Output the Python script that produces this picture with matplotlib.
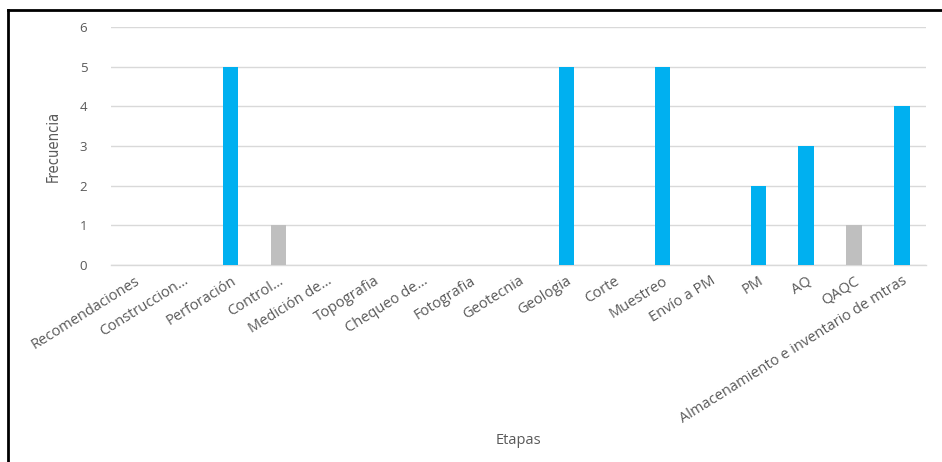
import matplotlib
matplotlib.use("Agg")
import matplotlib.pyplot as plt
from matplotlib.lines import Line2D

categories = ["Recomendaciones", "Construccion…", "Perforación", "Control…", "Medición de…",
              "Topografia", "Chequeo de…", "Fotografia", "Geotecnia", "Geologia", "Corte",
              "Muestreo", "Envío a PM", "PM", "AQ", "QAQC",
              "Almacenamiento e inventario de mtras"]
values = [0, 0, 5, 1, 0, 0, 0, 0, 0, 5, 0, 5, 0, 2, 3, 1, 4]
gray_cats = ["Control…", "QAQC"]
yticks = [0, 1, 2, 3, 4, 5, 6]

BLUE = "#00B0F0"
GRAY = "#BFBFBF"
TXT = "#595959"

plt.rcParams['font.family'] = ['Open Sans', 'DejaVu Sans']

fig = plt.figure(figsize=(9.42, 4.62), dpi=100)
ax = fig.add_axes([0.1178, 0.4264, 0.8652, 0.5152])

x = list(range(len(categories)))
colors = [GRAY if c in gray_cats else BLUE for c in categories]
ax.bar(x, values, width=0.32, color=colors, zorder=3)

ax.set_xlim(-0.5, len(categories) - 0.5)
ax.set_ylim(0, 6)
ax.set_yticks(yticks)
ax.yaxis.grid(True, color="#D9D9D9", linewidth=1, zorder=0)
for s in ["top", "right", "left"]:
    ax.spines[s].set_visible(False)
ax.spines["bottom"].set_color("#D9D9D9")
ax.spines["bottom"].set_linewidth(1)
ax.tick_params(axis="both", length=0, colors=TXT, labelsize=9.5)
ax.tick_params(axis="y", pad=17)
ax.tick_params(axis="x", pad=6)
ax.set_xticks(x)
ax.set_xticklabels(categories, rotation=32, ha="right", rotation_mode="anchor", color=TXT, fontsize=10.5)

ax.set_xlabel("Etapas", color=TXT, fontsize=10.5, labelpad=0)
ax.xaxis.set_label_coords(0.5, -0.705)
ax.set_ylabel("Frecuencia", color=TXT, fontsize=10.5,
              family=['DejaVu Sans'], fontstretch='condensed')
ax.yaxis.set_label_coords(-0.062, 0.5)

# outer border lines (top and left visible in reference)
fig.add_artist(Line2D([8/942, 8/942], [0, 1 - 10/462], transform=fig.transFigure, color="black", lw=2))
fig.add_artist(Line2D([8/942, 1], [1 - 10/462, 1 - 10/462], transform=fig.transFigure, color="black", lw=2))

fig.savefig("out.png", dpi=100)
